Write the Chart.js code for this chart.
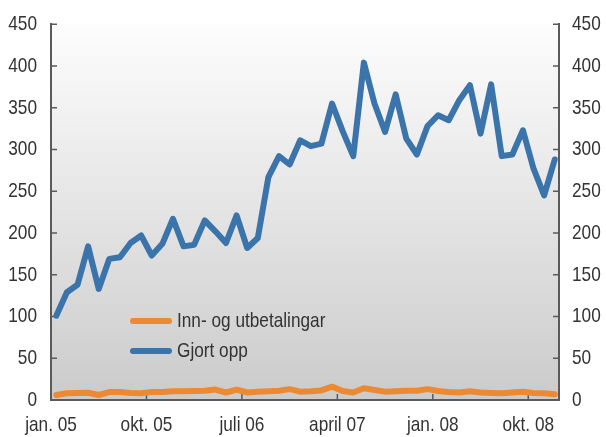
<!DOCTYPE html>
<html><head><meta charset="utf-8">
<script src="https://cdn.jsdelivr.net/npm/chart.js@4/dist/chart.umd.min.js"></script>
<style>html,body{margin:0;padding:0;background:#fff}#wrap{width:606px;height:437px}</style>
</head><body><div id="wrap"><canvas id="c" width="606" height="437"></canvas></div>
<script>
const categories = [
  "jan. 05","feb. 05","mars 05","april 05","mai 05","juni 05","juli 05","aug. 05","sep. 05","okt. 05","nov. 05","des. 05",
  "jan. 06","feb. 06","mars 06","april 06","mai 06","juni 06","juli 06","aug. 06","sep. 06","okt. 06","nov. 06","des. 06",
  "jan. 07","feb. 07","mars 07","april 07","mai 07","juni 07","juli 07","aug. 07","sep. 07","okt. 07","nov. 07","des. 07",
  "jan. 08","feb. 08","mars 08","april 08","mai 08","juni 08","juli 08","aug. 08","sep. 08","okt. 08","nov. 08","des. 08"
];
const tickLabelIndices = [0, 9, 18, 27, 36, 45];
const yTickValues = [0, 50, 100, 150, 200, 250, 300, 350, 400, 450];
const seriesLabels = ["Inn- og utbetalingar", "Gjort opp"];
const innOgUtbetalingar = [6,8,8.5,8.7,6,9.5,9.5,8.5,8,9.5,9.5,10.5,10.5,10.7,11,12.5,9,12.5,9,10,10.5,11,13,10,10.5,11.5,16,10.7,9,14,12,10,10.5,11,11,13,10.7,9.5,9,10.5,9,8.5,8,9,10,8.5,8,7];
const gjortOpp = [101,129,138,184,133,169,171,188,197,173,187,217,184,186,215,202,188,221,182,194,267,292,282,311,304,307,355,322,292,404,355,321,366,313,294,328,341,335,359,377,319,378,292,294,323,277,245,288];

const FONT = "'Liberation Sans','Arial',sans-serif";
const FSIZE = 21;
const SX = 0.82;
const TXT = '#333333';
const AXIS = '#5a5a5a';

function narrowText(ctx, text, x, y, align, baseline) {
  ctx.save();
  ctx.font = FSIZE + 'px ' + FONT;
  ctx.fillStyle = TXT; ctx.textAlign = align; ctx.textBaseline = baseline;
  ctx.translate(x, y); ctx.scale(SX, 1);
  ctx.fillText(text, 0, 0);
  ctx.restore();
}

const bgPlugin = {
  id: 'bg',
  beforeDraw(chart) {
    const {ctx, chartArea: a} = chart;
    const g = ctx.createLinearGradient(0, a.top, 0, a.bottom);
    g.addColorStop(0, '#fdfdfd');
    g.addColorStop(1, '#cbcbcb');
    ctx.save(); ctx.fillStyle = g; ctx.fillRect(a.left, a.top, a.right - a.left, a.bottom - a.top); ctx.restore();
  }
};
const tickPlugin = {
  id: 'inTicks',
  beforeDatasetsDraw(chart) {
    const {ctx, chartArea: a, scales} = chart;
    ctx.save(); ctx.strokeStyle = AXIS; ctx.lineWidth = 1.5;
    ctx.beginPath();
    scales.x.ticks.forEach(t => { const x = scales.x.getPixelForValue(t.value); ctx.moveTo(x, a.bottom); ctx.lineTo(x, a.bottom - 6); });
    scales.y.ticks.forEach(t => { const y = scales.y.getPixelForValue(t.value); ctx.moveTo(a.left, y); ctx.lineTo(a.left + 6, y); });
    scales.y2.ticks.forEach(t => { const y = scales.y2.getPixelForValue(t.value); ctx.moveTo(a.right, y); ctx.lineTo(a.right - 6, y); });
    ctx.stroke(); ctx.restore();
  },
  afterDraw(chart) {
    const {ctx, chartArea: a, scales} = chart;
    scales.x.ticks.forEach(t => narrowText(ctx, t.label, scales.x.getPixelForValue(t.value), a.bottom + 31, 'center', 'alphabetic'));
    scales.y.ticks.forEach(t => narrowText(ctx, t.label, a.left - 14, scales.y.getPixelForValue(t.value), 'right', 'middle'));
    scales.y2.ticks.forEach(t => narrowText(ctx, t.label, a.right + 13, scales.y2.getPixelForValue(t.value), 'left', 'middle'));
  }
};
const legendPlugin = {
  id: 'inLegend',
  afterDatasetsDraw(chart) {
    const {ctx, chartArea: a} = chart;
    chart.data.datasets.forEach((ds, i) => {
      const y = a.bottom - 79 + i * 30;
      const x0 = a.left + 82;
      ctx.save();
      ctx.strokeStyle = ds.borderColor; ctx.lineWidth = 6; ctx.lineCap = 'round';
      ctx.beginPath(); ctx.moveTo(x0, y); ctx.lineTo(x0 + 36, y); ctx.stroke();
      ctx.restore();
      narrowText(ctx, ds.label, x0 + 44, y, 'left', 'middle');
    });
  }
};

const toPts = arr => arr.map((v, i) => ({x: i, y: v}));
const hidden = 'rgba(0,0,0,0)';

new Chart(document.getElementById('c'), {
  type: 'line',
  data: {
    datasets: [
      {label: seriesLabels[0], data: toPts(innOgUtbetalingar), borderColor: '#ec8a33', borderWidth: 6, pointRadius: 0, tension: 0, borderJoinStyle: 'round', borderCapStyle: 'round', clip: false},
      {label: seriesLabels[1], data: toPts(gjortOpp), borderColor: '#3a74aa', borderWidth: 6, pointRadius: 0, tension: 0, borderJoinStyle: 'round', borderCapStyle: 'round', clip: false}
    ]
  },
  options: {
    responsive: false, animation: false, devicePixelRatio: 1,
    layout: {padding: {top: 22, left: 0, right: 0, bottom: 0}},
    plugins: {legend: {display: false}, tooltip: {enabled: false}},
    scales: {
      x: {
        type: 'linear', min: -0.5, max: 47.4,
        afterBuildTicks: s => { s.ticks = tickLabelIndices.map(i => ({value: i - 0.5})); },
        afterFit: s => { s.height = 37; },
        grid: {display: false, drawTicks: false},
        border: {display: true, color: AXIS, width: 2},
        ticks: {autoSkip: false, maxRotation: 0, padding: 11, color: hidden, font: {family: FONT, size: 17},
          callback: v => categories[Math.round(v + 0.5)]}
      },
      y: {
        position: 'left', min: 0, max: 450,
        afterBuildTicks: s => { s.ticks = yTickValues.map(v => ({value: v})); },
        afterFit: s => { s.width = 51; },
        grid: {display: false, drawTicks: false},
        border: {display: true, color: AXIS, width: 2},
        ticks: {autoSkip: false, padding: 14, color: hidden, font: {family: FONT, size: 17}}
      },
      y2: {
        position: 'right', min: 0, max: 450,
        afterBuildTicks: s => { s.ticks = yTickValues.map(v => ({value: v})); },
        afterFit: s => { s.width = 47; },
        grid: {display: false, drawTicks: false},
        border: {display: true, color: AXIS, width: 2},
        ticks: {autoSkip: false, padding: 13, color: hidden, font: {family: FONT, size: 17}}
      }
    }
  },
  plugins: [bgPlugin, tickPlugin, legendPlugin]
});
</script></body></html>
